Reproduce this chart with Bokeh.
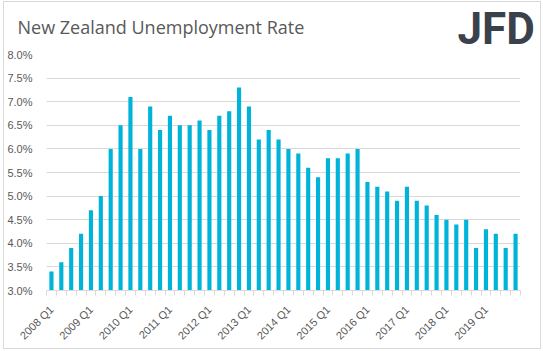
import math
from bokeh.plotting import figure
from bokeh.layouts import column
from bokeh.models import Range1d, FixedTicker, PrintfTickFormatter, Label
from bokeh.embed import file_html
from bokeh.resources import INLINE

quarters = [
    "2008 Q1", "2008 Q2", "2008 Q3", "2008 Q4",
    "2009 Q1", "2009 Q2", "2009 Q3", "2009 Q4",
    "2010 Q1", "2010 Q2", "2010 Q3", "2010 Q4",
    "2011 Q1", "2011 Q2", "2011 Q3", "2011 Q4",
    "2012 Q1", "2012 Q2", "2012 Q3", "2012 Q4",
    "2013 Q1", "2013 Q2", "2013 Q3", "2013 Q4",
    "2014 Q1", "2014 Q2", "2014 Q3", "2014 Q4",
    "2015 Q1", "2015 Q2", "2015 Q3", "2015 Q4",
    "2016 Q1", "2016 Q2", "2016 Q3", "2016 Q4",
    "2017 Q1", "2017 Q2", "2017 Q3", "2017 Q4",
    "2018 Q1", "2018 Q2", "2018 Q3", "2018 Q4",
    "2019 Q1", "2019 Q2", "2019 Q3", "2019 Q4",
]
unemployment_rate = [
    3.4, 3.6, 3.9, 4.2, 4.7, 5.0, 6.0, 6.5,
    7.1, 6.0, 6.9, 6.4, 6.7, 6.5, 6.5, 6.6,
    6.4, 6.7, 6.8, 7.3, 6.9, 6.2, 6.4, 6.2,
    6.0, 5.9, 5.6, 5.4, 5.8, 5.8, 5.9, 6.0,
    5.3, 5.2, 5.1, 4.9, 5.2, 4.9, 4.8, 4.6,
    4.5, 4.4, 4.5, 3.9, 4.3, 4.2, 3.9, 4.2,
]
x_tick_labels = ["2008 Q1", "2009 Q1", "2010 Q1", "2011 Q1", "2012 Q1", "2013 Q1",
                 "2014 Q1", "2015 Q1", "2016 Q1", "2017 Q1", "2018 Q1", "2019 Q1"]
y_ticks = [3.0, 3.5, 4.0, 4.5, 5.0, 5.5, 6.0, 6.5, 7.0, 7.5, 8.0]
title_text = "New Zealand Unemployment Rate"
logo_text = "JFD"

GREY_TXT = "#595959"
GRID = "#d9d9d9"
BAR = "#00b3d9"

n = len(quarters)
xs = list(range(n))

# ---- header (title + logo) ----
header = figure(width=536, height=54, x_axis_type=None, y_axis_type=None,
                min_border=0, output_backend="svg", toolbar_location=None)
header.frame_align = False
header.outline_line_color = None
header.grid.visible = False
header.add_layout(Label(x=13, y=30, x_units="screen", y_units="screen", text=title_text,
                        text_font="Open Sans", text_font_size="18px", text_color=GREY_TXT,
                        text_baseline="alphabetic"))
header.add_layout(Label(x=453, y=28, x_units="screen", y_units="screen", text=logo_text,
                        text_font="Roboto", text_font_style="bold",
                        text_font_size="44px", text_color="#3b414a",
                        text_baseline="alphabetic"))

# ---- main chart ----
p = figure(width=536, height=302,
           x_range=Range1d(-0.5, n - 0.5), y_range=Range1d(y_ticks[0], y_ticks[-1]),
           min_border_left=41, min_border_right=20, min_border_top=8, min_border_bottom=56,
           output_backend="svg", toolbar_location=None)
p.frame_align = False
p.margin = (-10, 0, 0, 0)
p.border_fill_alpha = 0
p.background_fill_color = "white"
p.outline_line_color = None

p.vbar(x=xs, top=unemployment_rate, bottom=y_ticks[0], width=0.42,
       fill_color=BAR, line_color=None)

major = [quarters.index(lbl) for lbl in x_tick_labels]
minor = [i - 0.5 for i in range(n + 1)]
p.xaxis.ticker = FixedTicker(ticks=major, minor_ticks=minor)
p.xaxis.major_label_overrides = {i: lbl for i, lbl in zip(major, x_tick_labels)}
p.xaxis.major_label_orientation = math.pi / 4
p.xaxis.major_tick_out = 0
p.xaxis.major_tick_in = 0
p.xaxis.minor_tick_out = 5
p.xaxis.minor_tick_in = 0
p.xaxis.minor_tick_line_color = GRID
p.xaxis.axis_line_color = GRID
p.xaxis.major_label_standoff = 12
p.xaxis.major_label_text_font = "Liberation Sans"
p.xaxis.major_label_text_font_size = "11px"
p.xaxis.major_label_text_color = GREY_TXT
p.xgrid.grid_line_color = None

p.yaxis.ticker = FixedTicker(ticks=y_ticks)
p.yaxis.formatter = PrintfTickFormatter(format="%.1f%%")
p.yaxis.axis_line_color = None
p.yaxis.major_tick_line_color = None
p.yaxis.minor_tick_line_color = None
p.yaxis.major_label_standoff = 8
p.yaxis.major_label_text_font = "Liberation Sans"
p.yaxis.major_label_text_font_size = "11px"
p.yaxis.major_label_text_color = GREY_TXT
p.ygrid.grid_line_color = GRID
p.ygrid.ticker = FixedTicker(ticks=y_ticks)

layout = column(header, p, spacing=0, margin=(1, 0, 0, 3),
                styles={"border": "1px solid #d9d9d9"})

open("out.html", "w").write(file_html(layout, INLINE))
